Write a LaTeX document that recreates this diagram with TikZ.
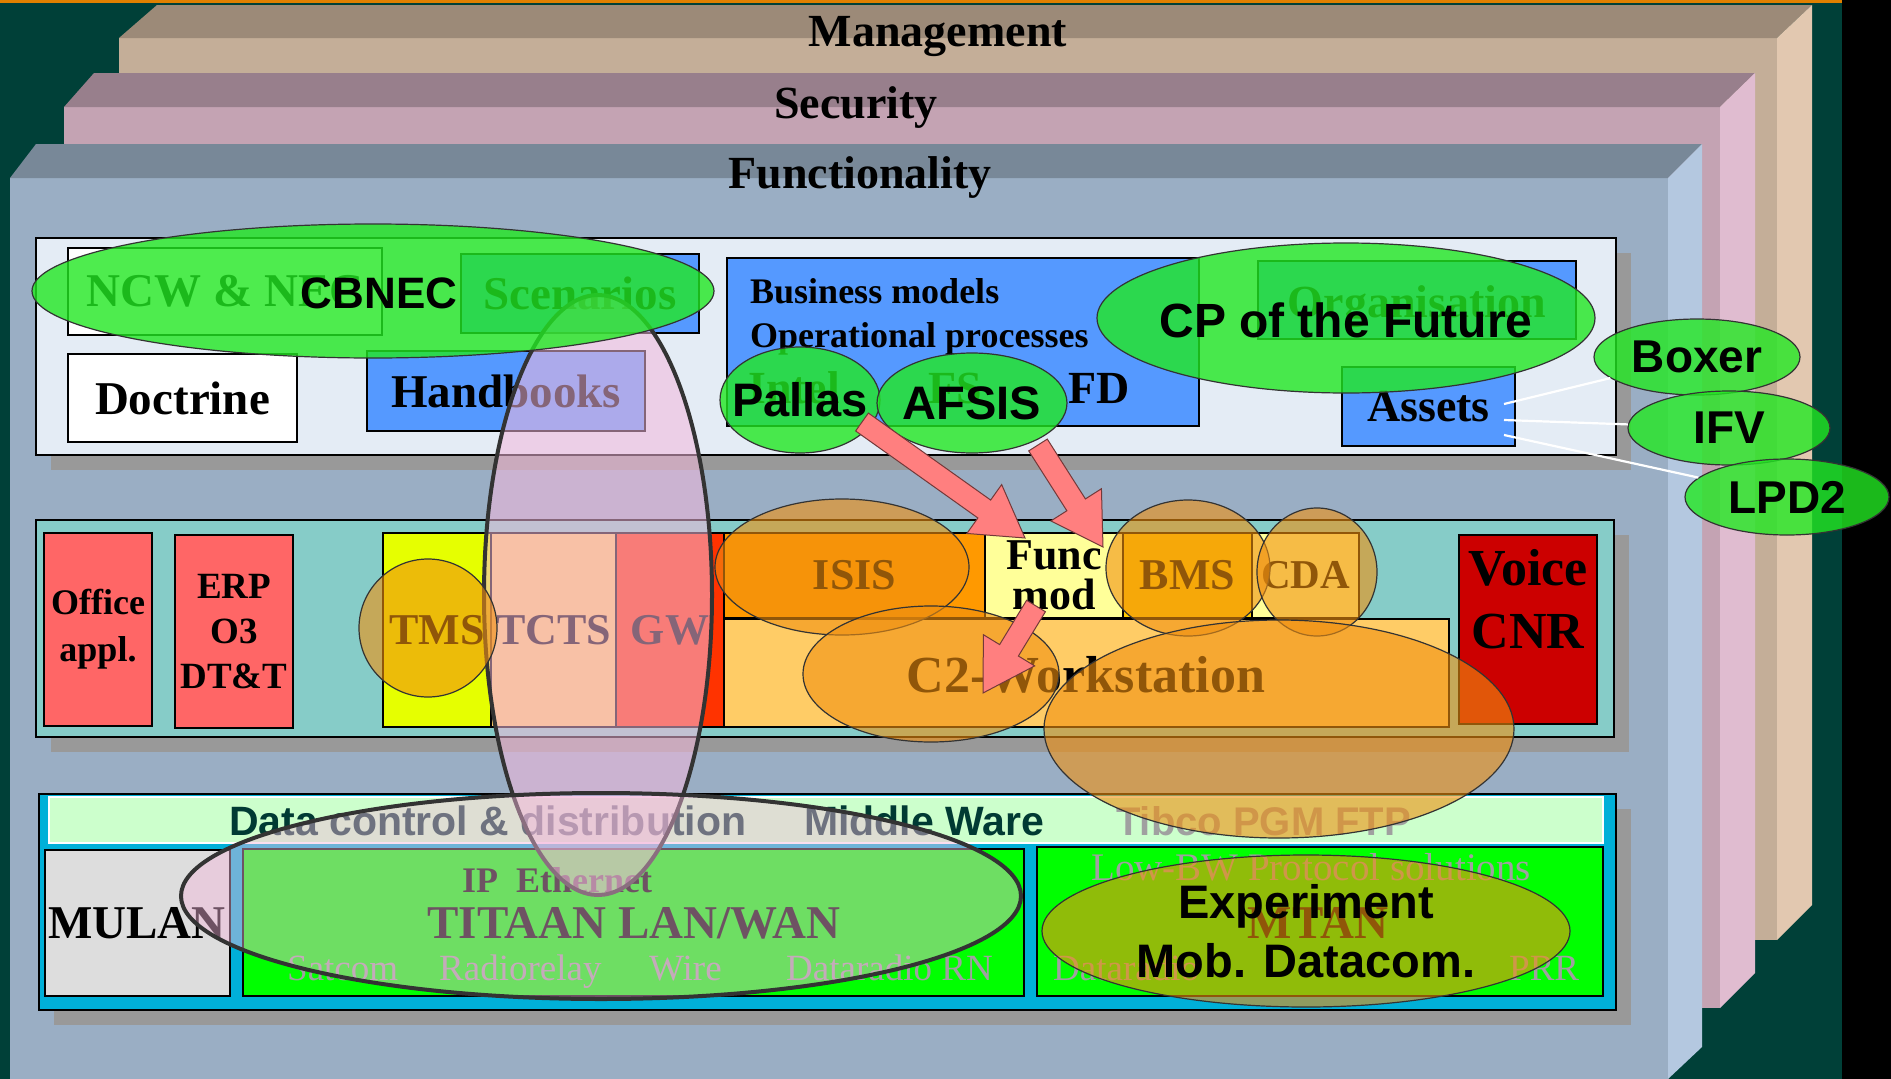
\documentclass[tikz,border=0pt]{standalone}
\usepackage{fontspec}
\setmainfont{Liberation Serif}
\setsansfont{Liberation Sans}
\usetikzlibrary{calc,fit,shadows,shapes.geometric}

\definecolor{bgteal}{HTML}{004038}
\definecolor{topline}{HTML}{E08000}
\definecolor{mgmtTop}{HTML}{9C8A78}
\definecolor{mgmtFront}{HTML}{C4AE98}
\definecolor{mgmtSide}{HTML}{E2C8B0}
\definecolor{secTop}{HTML}{987F8C}
\definecolor{secFront}{HTML}{C4A3B3}
\definecolor{secSide}{HTML}{E0BCD0}
\definecolor{funTop}{HTML}{788898}
\definecolor{funFront}{HTML}{9AAEC4}
\definecolor{funSide}{HTML}{B4C8E0}
\definecolor{shadowgrey}{HTML}{999999}
\definecolor{paneltop}{HTML}{E4ECF5}
\definecolor{panelmid}{HTML}{86CCC8}
\definecolor{panelbot}{HTML}{00B0D8}
\definecolor{boxblue}{HTML}{5599FF}
\definecolor{boxred}{HTML}{FF6666}
\definecolor{tmsyel}{HTML}{E6FF00}
\definecolor{lorange}{HTML}{FFCC66}
\definecolor{redorange}{HTML}{FF3300}
\definecolor{isisorange}{HTML}{FF9900}
\definecolor{lyellow}{HTML}{FFFF99}
\definecolor{bmsyel}{HTML}{FFCC00}
\definecolor{voicered}{HTML}{CC0000}
\definecolor{mwgreen}{HTML}{CCFFCC}
\definecolor{netgreen}{HTML}{00FF00}
\definecolor{mulangrey}{HTML}{DDDDDD}
\definecolor{textteal}{HTML}{003A33}
\definecolor{greytext}{HTML}{A0A0A0}
\definecolor{ellgreen}{HTML}{22E822}
\definecolor{ellorange}{HTML}{F09010}
\definecolor{ellpink}{HTML}{F4B8DC}
\definecolor{arrowpink}{HTML}{FF7F7F}
\definecolor{darkline}{HTML}{333333}

% block arrow from #1 to #2
\newcommand{\blockarrow}[2]{%
  \coordinate (ahead) at ($(#2)!50pt!(#1)$);
  \filldraw[bigarrow] ($(#1)!11pt!90:(#2)$) -- ($(ahead)!11pt!-90:(#1)$)
    -- ($(ahead)!30pt!-90:(#1)$) -- (#2) -- ($(ahead)!30pt!90:(#1)$)
    -- ($(ahead)!11pt!90:(#1)$) -- ($(#1)!11pt!-90:(#2)$) -- cycle;}

\begin{document}
\begin{tikzpicture}[x=1pt, y=-1pt,
    tb/.style={font=\fontsize{#1}{#1}\selectfont\bfseries, inner sep=0pt},
    tr/.style={font=\fontsize{#1}{#1}\selectfont, inner sep=0pt},
    ab/.style={font=\fontsize{#1}{#1}\selectfont\sffamily\bfseries, inner sep=0pt},
    box/.style={draw=black, line width=1.3pt, inner sep=0pt, outer sep=0pt},
    panel/.style={box, line width=1.6pt, drop shadow={shadow xshift=15pt, shadow yshift=-15pt, fill=shadowgrey, opacity=1}},
    greenell/.style={ellipse, draw=darkline, line width=1.2pt, fill=ellgreen, fill opacity=0.8, inner sep=0pt},
    orangeell/.style={ellipse, draw=darkline, line width=1.2pt, fill=ellorange, fill opacity=0.6, inner sep=0pt},
    pinkell/.style={ellipse, draw=darkline, line width=4pt, fill=ellpink, fill opacity=#1, inner sep=0pt},
    wire/.style={draw=white, line width=2.2pt},
    bigarrow/.style={fill=arrowpink, draw=black!55!arrowpink, line width=1pt}]

		\useasboundingbox (0,0) rectangle (1891,1079);
		\fill[bgteal] (0,0) rectangle (1891,1079);
		\fill[topline] (0,0) rectangle (1842,3);
		\fill[black] (1842,0) rectangle (1891,1079);

		% the three layers
		\fill[mgmtFront] (119,38) rectangle (1777,940);
		\fill[mgmtTop] (119,38) -- (157,5) -- (1812,5) -- (1777,38) -- cycle;
		\fill[mgmtSide] (1777,38) -- (1812,5) -- (1812,905) -- (1777,940) -- cycle;
		\node[tb=46, anchor=base] (mgmt) at (938,46) {Management};

		\fill[secFront] (64,107) rectangle (1720,1008);
		\fill[secTop] (64,107) -- (94,73) -- (1755,73) -- (1720,107) -- cycle;
		\fill[secSide] (1720,107) -- (1755,73) -- (1755,973) -- (1720,1008) -- cycle;
		\node[tb=46, anchor=base] (sec) at (856,118) {Security};

		\fill[funFront] (10,178) rectangle (1668,1079);
		\fill[funTop] (10,178) -- (36,144) -- (1702,144) -- (1668,178) -- cycle;
		\fill[funSide] (1668,178) -- (1702,144) -- (1702,1047) -- (1668,1079) -- cycle;
		\node[tb=46, anchor=base] (func) at (860,188) {Functionality};

		% panels
		\node[panel, fill=paneltop, fit={(36,238) (1616,455)}] (ptop) {};
		\node[panel, fill=panelmid, fit={(36,520) (1614,737)}] (pmid) {};
		\node[panel, fill=panelbot, fit={(39,794) (1616,1010)}] (pbot) {};

		% top panel
		\node[box, fill=white, fit={(68,248) (382,335)}] (ncw) {};
		\node[tb=47] at (ncw) {NCW \& NEC};
		\node[box, fill=boxblue, fit={(461,254) (699,333)}] (scen) {};
		\node[tb=47] at (scen) {Scenarios};
		\node[box, fill=white, fit={(68,354) (297,442)}] (doct) {};
		\node[tb=47] at (doct) {Doctrine};
		\node[box, fill=boxblue, fit={(367,351) (645,431)}] (handb) {};
		\node[tb=47] at (handb) {Handbooks};
		\node[box, fill=boxblue, fit={(727,258) (1199,426)}] (bizz) {};
		\node[tb=36, anchor=base west] (bm) at (750,303) {Business models};
		\node[tb=36, anchor=base west] (op) at (750,347) {Operational processes};
		\node[tb=46, anchor=base west] (intel) at (748,403) {Intel};
		\node[tb=46, anchor=base west] (fs) at (928,403) {FS};
		\node[tb=46, anchor=base west] (fd) at (1068,403) {FD};
		\node[box, fill=boxblue, fit={(1258,261) (1576,339)}] (org) {};
		\node[tb=46, anchor=base] at (1417,317) {Organisation};
		\node[box, fill=boxblue, fit={(1342,367) (1515,446)}] (assets) {};
		\node[tb=46] at (assets) {Assets};

		% middle panel
		\node[box, fill=boxred, fit={(44,533) (152,726)}] (office) {};
		\node[font=\fontsize{36}{47}\selectfont\bfseries, align=center, inner sep=0pt] at (office) {Office\\appl.};
		\node[box, fill=boxred, fit={(175,535) (293,728)}] (erp) {};
		\node[font=\fontsize{37}{45}\selectfont\bfseries, align=center, inner sep=0pt] at (erp) {ERP\\O3\\DT\&T};
		\node[box, fill=tmsyel, fit={(383,533) (491,727)}] (tms) {};
		\node[tb=44] at (tms) {TMS};
		\node[box, fill=lorange, fit={(491,533) (616,727)}] (tcts) {};
		\node[tb=44] at (tcts) {TCTS};
		\node[box, fill=redorange, fit={(616,533) (724,727)}] (gw) {};
		\node[tb=44] at (gw) {GW};
		\node[box, fill=isisorange, fit={(724,533) (985,618)}] (isis) {};
		\node[tb=44] at (isis) {ISIS};
		\node[box, fill=lyellow, fit={(985,533) (1123,618)}] (funcmod) {};
		\node[font=\fontsize{44}{40}\selectfont\bfseries, align=center, inner sep=0pt] at (funcmod) {Func\\mod};
		\node[box, fill=bmsyel, fit={(1123,533) (1252,618)}] (bms) {};
		\node[tb=44] at (bms) {BMS};
		\node[box, fill=lyellow, fit={(1252,533) (1359,618)}] (cda) {};
		\node[tb=41] at (cda) {CDA};
		\node[box, fill=lorange, fit={(724,619) (1449,727)}] (c2) {};
		\node[tb=52, anchor=base] at (1086,692) {C2-Workstation};
		\node[box, fill=voicered, fit={(1459,535) (1597,724)}] (voice) {};
		\node[font=\fontsize{52}{63}\selectfont\bfseries, align=center, inner sep=0pt] (voicetxt) at (1528,599) {Voice\\CNR};

		% bottom panel
		\node[draw=white, line width=1.5pt, fill=mwgreen, inner sep=0pt, fit={(49,797) (1603,843)}] (mw) {};
		\node[ab=41, anchor=base west, text=textteal] (dcd) at (229,835) {Data control \& distribution};
		\node[ab=41, anchor=base west, text=textteal] (mware) at (804,835) {Middle Ware};
		\node[ab=40, anchor=base west, text=greytext] (tibco) at (1116,835) {Tibco PGM FTP};
		\node[box, fill=mulangrey, fit={(45,850) (230,996)}] (mulan) {};
		\node[tb=47, anchor=base] at (137,938) {MULAN};
		\node[box, fill=netgreen, fit={(243,849) (1024,996)}] (titaan) {};
		\node[tb=36, anchor=base] (ipeth) at (557,892) {IP\ \ Ethernet};
		\node[tb=47, anchor=base] (titaantxt) at (634,938) {TITAAN LAN/WAN};
		\node[tr=37, anchor=base west, text=greytext] (satcom) at (287,980) {Satcom};
		\node[tr=37, anchor=base west, text=greytext] (radiorelay) at (439,980) {Radiorelay};
		\node[tr=37, anchor=base west, text=greytext] (wire) at (649,980) {Wire};
		\node[tr=37, anchor=base west, text=greytext] (dradio) at (786,980) {Dataradio RN};
		\node[box, fill=netgreen, fit={(1037,847) (1603,996)}] (mtan) {};
		\node[tr=39, anchor=base west, text=greytext] (lowbw) at (1091,880) {Low-BW Protocol solutions};
		\node[tb=47, anchor=base] (mtantxt) at (1318,938) {MTAN};
		\node[tr=37, anchor=base west, text=greytext] (dradio2) at (1053,980) {Dataradio};
		\node[tr=37, anchor=base west, text=greytext] (prr) at (1509,980) {PRR};

		% overlays
		\node[pinkell=0.55, minimum width=228, minimum height=600] (pinkring) at (598,595) {};

		\node[orangeell, minimum width=138, minimum height=138] (elltms) at (428,628) {};
		\node[orangeell, minimum width=254, minimum height=136] (ellisis) at (842,567) {};
		\node[orangeell, minimum width=256, minimum height=136] (ellc2a) at (931,674) {};
		\node[orangeell, minimum width=164, minimum height=136] (ellbms) at (1188,568) {};
		\node[orangeell, minimum width=120, minimum height=128] (ellcda) at (1317,572) {};
		\node[orangeell, minimum width=470, minimum height=218] (ellc2b) at (1279,729) {};

		\node[pinkell=0.45, minimum width=840, minimum height=206] (titaanring) at (601,896) {};
		\node[orangeell, minimum width=528, minimum height=152] (experiment) at (1306,931) {};
		\node[font=\fontsize{47}{59}\selectfont\sffamily\bfseries, align=center, inner sep=0pt] at (experiment) {Experiment\\Mob. Datacom.};

		\node[greenell, minimum width=682, minimum height=134] (cbnec) at (373,291) {};
		\node[ab=44] at (379,293) {CBNEC};
		\node[greenell, minimum width=498, minimum height=150] (cp) at (1346,318) {};
		\node[ab=48] at (1346,320) {CP of the Future};
		\node[greenell, minimum width=160, minimum height=106] (pallas) at (800,400) {};
		\node[ab=47] at (pallas) {Pallas};
		\node[greenell, minimum width=190, minimum height=100] (afsis) at (972,403) {};
		\node[ab=47] at (afsis) {AFSIS};

		\coordinate (w1) at (1504,404);
		\coordinate (w2) at (1504,420);
		\coordinate (w3) at (1504,435);
		\node[greenell, minimum width=206, minimum height=76] (boxer) at (1697,357) {};
		\node[greenell, minimum width=202, minimum height=74] (ifv) at (1729,428) {};
		\node[greenell, minimum width=204, minimum height=76] (lpd2) at (1787,497) {};
		\draw[wire] (w1) -- (boxer);
		\draw[wire] (w2) -- (ifv);
		\draw[wire] (w3) -- (lpd2);
		\node[ab=46] at (boxer) {Boxer};
		\node[ab=46] at (ifv) {IFV};
		\node[ab=46] at (lpd2) {LPD2};

		% arrows
		\coordinate (a1s) at (862,422);
		\coordinate (a1e) at (1025,538);
		\coordinate (a2s) at (1038,445);
		\coordinate (a2e) at (1103,547);
		\coordinate (a3s) at (1036,606);
		\coordinate (a3e) at (983,693);
		\blockarrow{a1s}{a1e}
		\blockarrow{a2s}{a2e}
		\blockarrow{a3s}{a3e}
\end{tikzpicture}
\end{document}
